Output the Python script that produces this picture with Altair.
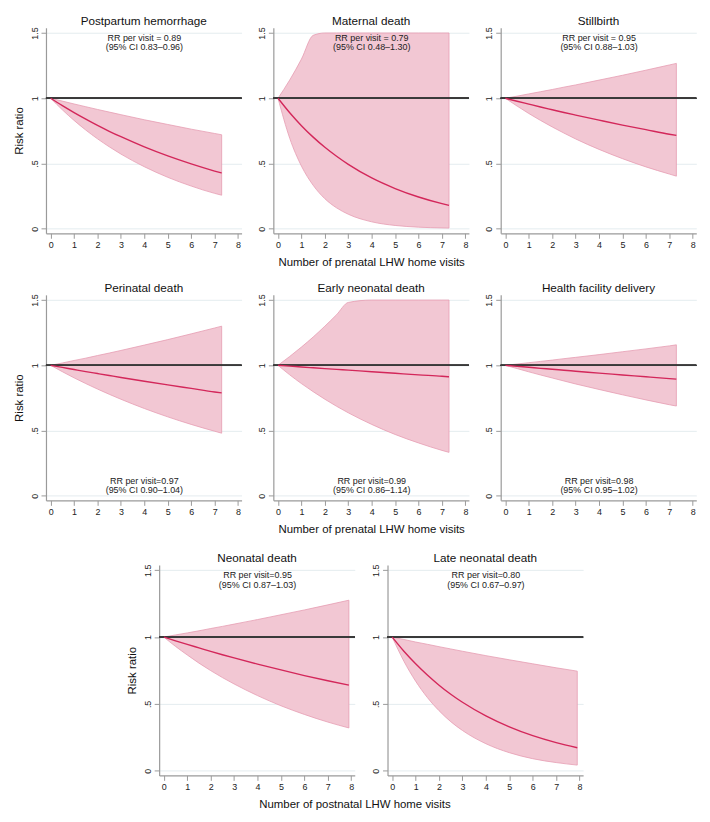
import altair as alt
import pandas as pd

FONT = "Liberation Sans"

# ---------------- data ----------------
prenatal_x = [0, 0.5, 1, 1.5, 2, 2.5, 3, 4, 5, 6, 7, 7.3]
postnatal_x = [0, 0.5, 1, 1.5, 2, 2.5, 3, 4, 5, 6, 7, 7.9]

pph_rr = [1, 0.943, 0.890, 0.840, 0.792, 0.747, 0.705, 0.627, 0.558, 0.497, 0.442, 0.427]
pph_lo = [1, 0.911, 0.830, 0.756, 0.689, 0.628, 0.572, 0.475, 0.394, 0.327, 0.271, 0.257]
pph_hi = [1, 0.978, 0.956, 0.935, 0.914, 0.894, 0.874, 0.835, 0.799, 0.763, 0.730, 0.720]

mat_rr = [1, 0.889, 0.790, 0.702, 0.624, 0.555, 0.493, 0.389, 0.308, 0.243, 0.192, 0.179]
mat_lo = [1, 0.693, 0.480, 0.333, 0.230, 0.160, 0.111, 0.053, 0.025, 0.012, 0.006, 0.005]
mat_hi = [1, 1.140, 1.300, 1.482, 1.500, 1.500, 1.500, 1.500, 1.500, 1.500, 1.500, 1.500]

sb_rr = [1, 0.977, 0.955, 0.933, 0.912, 0.891, 0.871, 0.832, 0.794, 0.759, 0.724, 0.715]
sb_lo = [1, 0.940, 0.883, 0.830, 0.780, 0.733, 0.688, 0.608, 0.537, 0.474, 0.419, 0.403]
sb_hi = [1, 1.016, 1.033, 1.050, 1.067, 1.085, 1.102, 1.139, 1.176, 1.215, 1.255, 1.267]

pn_rr = [1, 0.984, 0.968, 0.952, 0.937, 0.922, 0.907, 0.878, 0.850, 0.823, 0.796, 0.789]
pn_lo = [1, 0.951, 0.904, 0.860, 0.818, 0.778, 0.740, 0.669, 0.605, 0.547, 0.495, 0.480]
pn_hi = [1, 1.018, 1.037, 1.055, 1.075, 1.094, 1.114, 1.155, 1.197, 1.241, 1.286, 1.300]

en_rr = [1, 0.994, 0.987, 0.981, 0.975, 0.969, 0.963, 0.951, 0.939, 0.927, 0.916, 0.912]
en_lo = [1, 0.927, 0.860, 0.798, 0.740, 0.686, 0.636, 0.547, 0.470, 0.405, 0.348, 0.333]
en_hi = [1, 1.068, 1.140, 1.217, 1.300, 1.388, 1.482, 1.500, 1.500, 1.500, 1.500, 1.500]

hf_rr = [1, 0.992, 0.985, 0.977, 0.970, 0.962, 0.955, 0.940, 0.926, 0.912, 0.898, 0.894]
hf_lo = [1, 0.975, 0.950, 0.926, 0.903, 0.880, 0.857, 0.815, 0.774, 0.735, 0.698, 0.688]
hf_hi = [1, 1.010, 1.020, 1.030, 1.040, 1.051, 1.061, 1.082, 1.104, 1.126, 1.149, 1.157]

nn_rr = [1, 0.972, 0.945, 0.919, 0.893, 0.868, 0.844, 0.798, 0.754, 0.712, 0.673, 0.640]
nn_lo = [1, 0.930, 0.866, 0.805, 0.749, 0.697, 0.649, 0.562, 0.486, 0.421, 0.364, 0.320]
nn_hi = [1, 1.016, 1.031, 1.047, 1.064, 1.080, 1.097, 1.131, 1.167, 1.203, 1.241, 1.276]

ln_rr = [1, 0.894, 0.800, 0.716, 0.640, 0.572, 0.512, 0.410, 0.328, 0.262, 0.210, 0.172]
ln_lo = [1, 0.819, 0.670, 0.548, 0.449, 0.367, 0.301, 0.202, 0.135, 0.090, 0.061, 0.042]
ln_hi = [1, 0.982, 0.963, 0.946, 0.928, 0.911, 0.894, 0.861, 0.830, 0.800, 0.770, 0.745]

titles = ["Postpartum hemorrhage", "Maternal death", "Stillbirth",
          "Perinatal death", "Early neonatal death", "Health facility delivery",
          "Neonatal death", "Late neonatal death"]
ann_line1 = ["RR per visit = 0.89", "RR per visit = 0.79", "RR per visit = 0.95",
             "RR per visit=0.97", "RR per visit=0.99", "RR per visit=0.98",
             "RR per visit=0.95", "RR per visit=0.80"]
ann_line2 = ["(95% CI 0.83\u20130.96)", "(95% CI 0.48\u20131.30)", "(95% CI 0.88\u20131.03)",
             "(95% CI 0.90\u20131.04)", "(95% CI 0.86\u20131.14)", "(95% CI 0.95\u20131.02)",
             "(95% CI 0.87\u20131.03)", "(95% CI 0.67\u20130.97)"]
ann_top = [True, True, True, False, False, False, True, True]

series = [
    (prenatal_x, pph_rr, pph_lo, pph_hi),
    (prenatal_x, mat_rr, mat_lo, mat_hi),
    (prenatal_x, sb_rr, sb_lo, sb_hi),
    (prenatal_x, pn_rr, pn_lo, pn_hi),
    (prenatal_x, en_rr, en_lo, en_hi),
    (prenatal_x, hf_rr, hf_lo, hf_hi),
    (postnatal_x, nn_rr, nn_lo, nn_hi),
    (postnatal_x, ln_rr, ln_lo, ln_hi),
]

x_ticks = [0, 1, 2, 3, 4, 5, 6, 7, 8]
y_ticks = [0, 0.5, 1, 1.5]

# ---------------- styling ----------------
FILL = "#f2c7d3"
EDGE = "#e69cb2"
LINE = "#d3275a"
AXIS = "#9a9a9a"

W = 197
Y_LABELS = ("datum.value == 0 ? '0' : datum.value == 0.5 ? '.5' : "
            "datum.value == 1 ? '1' : '1.5'")
X_LABELS = "format(datum.value, 'd')"


def panel(i, height, ytitle=False, xtitle=None):
    xs, rr, lo, hi = series[i]
    df = pd.DataFrame({"x": xs, "rr": rr, "lo": lo, "hi": hi})
    xscale = alt.Scale(domain=[-0.2, 8.15], nice=False, zero=False)
    yscale = alt.Scale(domain=[-0.035, 1.54], nice=False, zero=False)

    xkw = dict(values=x_ticks, grid=False, labelAngle=0, tickSize=5,
               labelPadding=2, labelOverlap=False, labelExpr=X_LABELS)
    if xtitle:
        xkw.update(title=xtitle, titlePadding=7)
    else:
        xkw.update(title="")
    ykw = dict(values=y_ticks, grid=True, gridColor="#e4ecef", gridWidth=1,
               labelAngle=-90, labelAlign="center", labelBaseline="bottom",
               labelPadding=2, tickSize=5, labelOverlap=False,
               labelExpr=Y_LABELS)
    if ytitle:
        ykw.update(title="Risk ratio", titlePadding=6)
    else:
        ykw.update(title="")
    xaxis = alt.Axis(**xkw)
    yaxis = alt.Axis(**ykw)

    base = alt.Chart(df)
    area = base.mark_area(color=FILL, stroke=EDGE, strokeWidth=0.8, opacity=1,
                          interpolate="monotone").encode(
        x=alt.X("x:Q", scale=xscale, axis=xaxis),
        y=alt.Y("lo:Q", scale=yscale, axis=yaxis),
        y2="hi:Q",
    )
    rule = base.mark_rule(color="#3a3a3a", strokeWidth=1).encode(
        y=alt.Y(datum=1.0, scale=yscale, axis=yaxis))
    line = base.mark_line(color=LINE, strokeWidth=1.4, interpolate="monotone").encode(
        x=alt.X("x:Q", scale=xscale, axis=xaxis),
        y=alt.Y("rr:Q", scale=yscale, axis=yaxis))

    if ann_top[i]:
        ys = [1.462, 1.392]
    else:
        ys = [0.112, 0.042]
    tdf = pd.DataFrame({"t": [ann_line1[i], ann_line2[i]], "ty": ys})
    text = alt.Chart(tdf).mark_text(font=FONT, fontSize=9, color="#222",
                                    baseline="middle", align="center").encode(
        x=alt.X(datum=4, scale=xscale, axis=xaxis),
        y=alt.Y("ty:Q", scale=yscale, axis=yaxis),
        text="t:N")

    return alt.layer(area, rule, line, text).properties(
        width=W, height=height,
        title=alt.TitleParams(titles[i], fontSize=11.8, fontWeight="normal",
                              font=FONT, color="#111", frame="group", offset=-1),
    )


H12 = 207
H3 = 212

row1 = alt.hconcat(
    panel(0, H12, ytitle=True),
    panel(1, H12, xtitle="Number of prenatal LHW home visits"),
    panel(2, H12),
    spacing=15,
)
row2 = alt.hconcat(
    panel(3, H12, ytitle=True),
    panel(4, H12, xtitle="Number of prenatal LHW home visits"),
    panel(5, H12),
    spacing=15,
)
row3 = alt.hconcat(
    panel(6, H3, ytitle=True),
    panel(7, H3),
    spacing=16,
    title=alt.TitleParams("Number of postnatal LHW home visits", orient="bottom",
                          anchor="middle", fontSize=11.5, fontWeight="normal",
                          font=FONT, color="#111", offset=8),
)

top = alt.vconcat(row1, row2, spacing=15)
chart = alt.vconcat(top, row3, spacing=18, center=True).configure(
    background="white"
).configure_view(strokeWidth=0).configure_axis(
    labelFont=FONT, titleFont=FONT, labelFontSize=9, titleFontSize=11.5,
    titleFontWeight="normal", labelColor="#222", titleColor="#111",
    domainColor=AXIS, tickColor=AXIS, domainWidth=1.2, tickWidth=1,
    labelOverlap=False,
)

chart.save("out.html", embed_options={"renderer": "svg", "actions": False})
